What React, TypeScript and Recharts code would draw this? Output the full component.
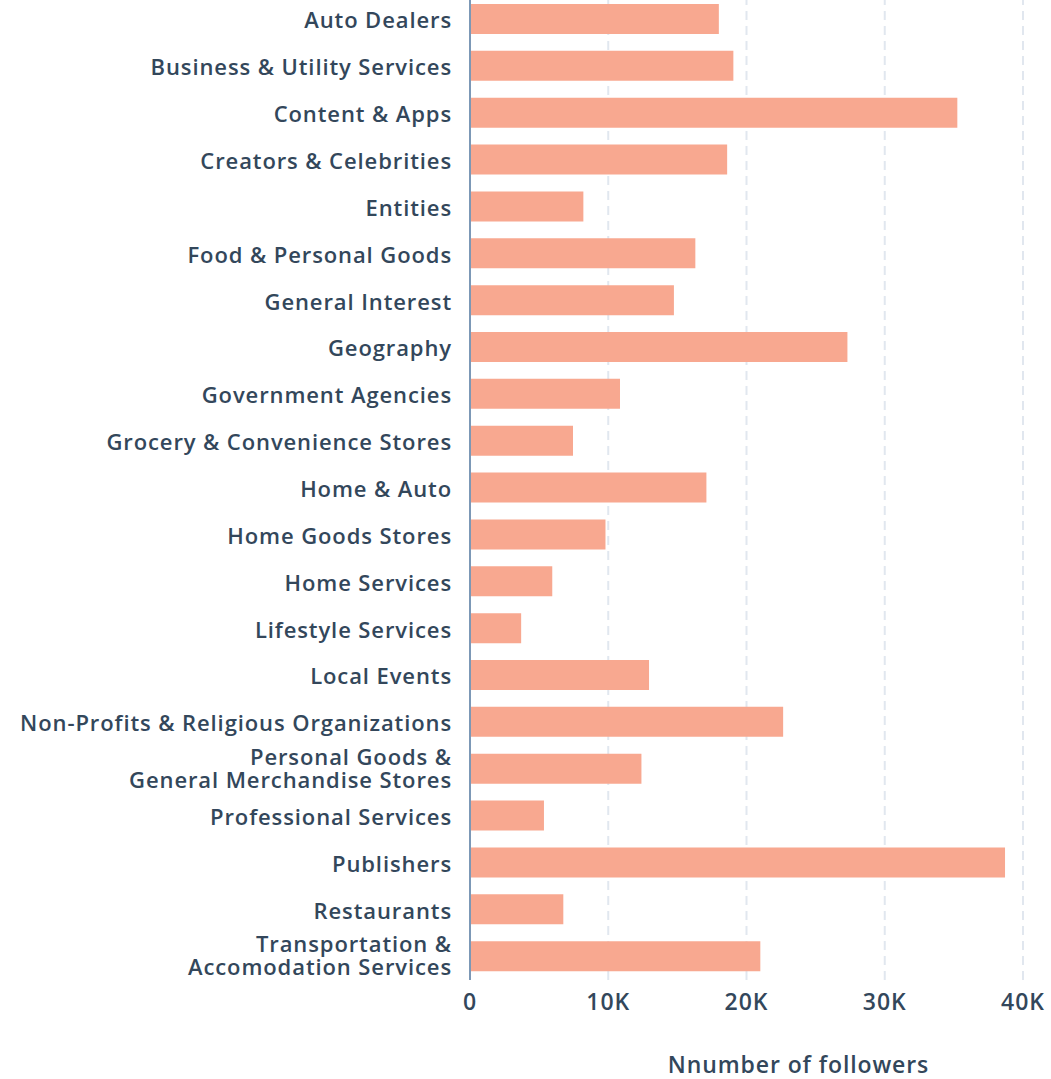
import { Bar, BarChart, CartesianGrid, Label, XAxis, YAxis } from "recharts";

const categories = [
  "Auto Dealers",
  "Business & Utility Services",
  "Content & Apps",
  "Creators & Celebrities",
  "Entities",
  "Food & Personal Goods",
  "General Interest",
  "Geography",
  "Government Agencies",
  "Grocery & Convenience Stores",
  "Home & Auto",
  "Home Goods Stores",
  "Home Services",
  "Lifestyle Services",
  "Local Events",
  "Non-Profits & Religious Organizations",
  "Personal Goods &\nGeneral Merchandise Stores",
  "Professional Services",
  "Publishers",
  "Restaurants",
  "Transportation &\nAccomodation Services",
];

const followers = [
  18000, 19050, 35250, 18600, 8200, 16300, 14750, 27300, 10850, 7450, 17100,
  9800, 5950, 3700, 12950, 22650, 12400, 5350, 38700, 6750, 21000,
];

const xTicks = [0, 10000, 20000, 30000, 40000];

const data = categories.map((name, i) => ({ name, value: followers[i] }));

const textColor = "#33475b";
const font = "'Open Sans', sans-serif";

function CategoryTick({ x, y, payload }: any) {
  const lines = String(payload.value).split("\n");
  const lineHeight = 23;
  const startDy = -((lines.length - 1) * lineHeight) / 2 - (lines.length > 1 ? 2 : 0);
  return (
    <text
      x={x}
      y={y}
      textAnchor="end"
      fill={textColor}
      fontSize={22}
      fontWeight={600}
      letterSpacing={0.9}
      fontFamily={font}
      dominantBaseline="central"
    >
      {lines.map((line, i) => (
        <tspan key={i} x={x} dy={i === 0 ? startDy : lineHeight}>
          {line}
        </tspan>
      ))}
    </text>
  );
}

const formatK = (v: number) => (v === 0 ? "0" : `${v / 1000}K`);

export default function App() {
  return (
    <div style={{ position: "absolute", left: 0, top: -4, background: "#fff" }}>
      <BarChart
        width={1051}
        height={1083}
        data={data}
        layout="vertical"
        margin={{ top: 0, right: 28, bottom: 0, left: 0 }}
      >
        <CartesianGrid
          horizontal={false}
          stroke="#e1e7ef"
          strokeWidth={2}
          strokeDasharray="9 6"
        />
        <XAxis
          type="number"
          domain={[0, 40000]}
          ticks={xTicks}
          tickFormatter={formatK}
          axisLine={false}
          tickLine={false}
          height={99}
          tickMargin={8}
          tick={{ fill: textColor, fontSize: 23, fontWeight: 600, fontFamily: font, letterSpacing: 1 }}
        >
          <Label
            value="Nnumber of followers"
            position="insideBottom"
            offset={6}
            dx={52}
            fill={textColor}
            fontSize={23}
            fontWeight={600}
            letterSpacing={0.9}
            fontFamily={font}
          />
        </XAxis>
        <YAxis
          type="category"
          dataKey="name"
          width={470}
          axisLine={{ stroke: "#7c98b6", strokeWidth: 2 }}
          tickLine={false}
          tickMargin={12}
          interval={0}
          tick={<CategoryTick />}
        />
        <Bar dataKey="value" fill="#f8a890" barSize={30} isAnimationActive={false} />
      </BarChart>
    </div>
  );
}
